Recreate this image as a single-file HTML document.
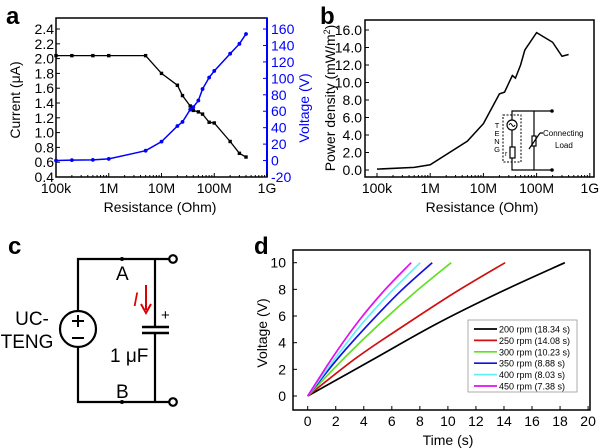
<!DOCTYPE html>
<html><head><meta charset="utf-8"><style>
body{margin:0;background:#fff}
svg{display:block;font-family:"Liberation Sans",sans-serif}
</style></head><body>
<svg id="s" width="600" height="448" viewBox="0 0 600 448">
<g font-weight="bold" font-size="24">
<text x="6" y="24">a</text>
<text x="320" y="24">b</text>
<text x="8" y="254">c</text>
<text x="254" y="254">d</text>
</g>
<g id="ga"></g>
<g id="gb"></g>
<g id="gd"></g>
<g stroke="#000" stroke-width="2.2" fill="none">
<path d="M78 311 V259 H169 M78 347 V402 H169 M155 259 V326 M155 334 V402"/>
<circle cx="78" cy="329" r="18"/>
<circle cx="173" cy="259" r="3.8"/>
<circle cx="173" cy="402" r="3.8"/>
<path d="M142 327 H169 M142 333 H169" stroke-width="2.6"/>
<path d="M72 321 H84 M78 315 V327 M72 338 H84" stroke-width="2"/>
<path d="M146 285 V310" stroke="#d00" stroke-width="2"/>
<path d="M141 304 L146 313 L151 304" stroke="#d00" stroke-width="2"/>
</g>
<circle cx="122" cy="259" r="2" fill="#000"/>
<circle cx="122" cy="402" r="2" fill="#000"/>
<g font-size="19">
<text x="116" y="280">A</text>
<text x="116" y="398">B</text>
<text x="32" y="325" text-anchor="middle">UC-</text>
<text x="27" y="348" text-anchor="middle">TENG</text>
<text x="110" y="362">1 μF</text>
<text x="161" y="320" font-size="15">+</text>
<text x="133" y="306" fill="#d00" font-style="italic">I</text>
</g>
</svg>
<script>
// ---- Panel a data ----
const aR = [1e5,2e5,5e5,1e6,5e6,1e7,2e7,2.5e7,3.5e7,4e7,5e7,6e7,8e7,1e8,2e8,3e8,4e8];
const aCurrent = [2.04,2.04,2.04,2.04,2.04,1.80,1.64,1.50,1.36,1.30,1.28,1.25,1.14,1.13,0.88,0.72,0.67];
const aVoltage = [0,0.5,0.8,2,12,23,42,47,62,65,73,87,101,109,130,142,154];
const aLeftTicks = ["0.4","0.6","0.8","1.0","1.2","1.4","1.6","1.8","2.0","2.2","2.4"];
const aRightTicks = ["-20","0","20","40","60","80","100","120","140","160"];
const xDecLabels = ["100k","1M","10M","100M","1G"];
// ---- Panel b data ----
const bR = [1e5,5e5,1e6,5e6,1e7,2e7,2.5e7,3.5e7,4e7,5e7,6e7,1e8,2e8,3e8,4e8];
const bPower = [0.1,0.3,0.6,3.3,5.3,8.7,8.9,10.8,10.5,12.0,13.7,15.7,14.6,13.0,13.2];
const bTicks = ["0.0","2.0","4.0","6.0","8.0","10.0","12.0","14.0","16.0"];
// ---- Panel d data ----
const dNames = ["200 rpm (18.34 s)","250 rpm (14.08 s)","300 rpm (10.23 s)","350 rpm (8.88 s)","400 rpm (8.03 s)","450 rpm (7.38 s)"];
const dEnd = [18.34,14.08,10.23,8.88,8.03,7.38];
const dFrac = [0,0.25,0.5,0.75,1];
const dV200 = [0,2.7,5.4,7.8,10];
const dV250 = [0,2.9,5.4,7.8,10];
const dV300 = [0,2.8,5.4,7.8,10];
const dV350 = [0,2.9,5.5,7.9,10];
const dV400 = [0,2.9,5.6,7.9,10];
const dV450 = [0,3.0,5.7,8.0,10];
const dColors = ["#000","#d01010","#60e020","#1010e0","#60f0f8","#e010f0"];
const dXTicks = ["0","2","4","6","8","10","12","14","16","18","20"];
const dYTicks = ["0","2","4","6","8","10"];

const NS="http://www.w3.org/2000/svg";
function mk(p,t,at,txt){const e=document.createElementNS(NS,t);for(const k in at)e.setAttribute(k,at[k]);if(txt!==undefined)e.textContent=txt;p.appendChild(e);return e;}

// ===== Panel a =====
const ga=document.getElementById('ga');
const aL=56,aRt=267,aT=18,aB=177;
const ax=v=>aL+(Math.log10(v)-5)*(aRt-aL)/4;
const ayL=v=>aB-(v-0.4)*(aB-aT)/2.1*1;
const ayLs=v=>177-(v-0.4)/0.2*14.8;
const ayR=v=>177-(v+20)/20*16.44;
let e=mk(ga,'rect',{x:aL,y:aT,width:aRt-aL,height:aB-aT,fill:'none',stroke:'#000','stroke-width':1.5});

mk(ga,'line',{x1:aRt,y1:aT,x2:aRt,y2:aB,stroke:'#00f','stroke-width':2});
aLeftTicks.forEach(t=>{const y=ayLs(+t);mk(ga,'line',{x1:aL,y1:y,x2:aL+4,y2:y,stroke:'#000'});
 e=mk(ga,'text',{x:aL-2,y:y+5,'text-anchor':'end','font-size':14},t);});
aRightTicks.forEach(t=>{const y=ayR(+t);mk(ga,'line',{x1:aRt-4,y1:y,x2:aRt,y2:y,stroke:'#00f'});
 e=mk(ga,'text',{x:aRt+4,y:y+5,'font-size':14,fill:'#00f'},t);});
xDecLabels.forEach((t,i)=>{const x=aL+i*(aRt-aL)/4;
 e=mk(ga,'text',{x:x,y:193,'text-anchor':'middle','font-size':14},t);
 mk(ga,'line',{x1:x,y1:aB,x2:x,y2:aB-4,stroke:'#000'});
 if(i<4)for(let m=2;m<10;m++){const xm=x+Math.log10(m)*(aRt-aL)/4;mk(ga,'line',{x1:xm,y1:aB,x2:xm,y2:aB-2,stroke:'#000'});}});
e=mk(ga,'text',{x:160,y:212,'text-anchor':'middle','font-size':14},'Resistance (Ohm)');
e=mk(ga,'text',{x:0,y:0,'text-anchor':'middle','font-size':14,transform:'translate(20,100) rotate(-90)'},'Current (μA)');
e=mk(ga,'text',{x:0,y:0,'text-anchor':'middle','font-size':14,fill:'#00f',transform:'translate(309,108) rotate(-90)'},'Voltage (V)');
e=mk(ga,'polyline',{points:aR.map((r,i)=>ax(r)+','+ayLs(aCurrent[i])).join(' '),fill:'none',stroke:'#000','stroke-width':1.3});

aR.forEach((r,i)=>{e=mk(ga,'rect',{x:ax(r)-1.7,y:ayLs(aCurrent[i])-1.7,width:3.4,height:3.4,fill:'#000'});});
e=mk(ga,'polyline',{points:aR.map((r,i)=>ax(r)+','+ayR(aVoltage[i])).join(' '),fill:'none',stroke:'#00f','stroke-width':1.5});

aR.forEach((r,i)=>{e=mk(ga,'circle',{cx:ax(r),cy:ayR(aVoltage[i]),r:1.9,fill:'#00f'});});

// ===== Panel b =====
const gb=document.getElementById('gb');
const bL=365,bRt=594,bT=20,bB=177,bX0=377,bDec=53.2;
const bx=v=>bX0+(Math.log10(v)-5)*bDec;
const by=v=>170-v*8.75;
e=mk(gb,'rect',{x:bL,y:bT,width:bRt-bL,height:bB-bT,fill:'none',stroke:'#000','stroke-width':1.5});

bTicks.forEach(t=>{const y=by(+t);mk(gb,'line',{x1:bL,y1:y,x2:bL+4,y2:y,stroke:'#000'});
 e=mk(gb,'text',{x:bL-3,y:y+5,'text-anchor':'end','font-size':14},t);});
xDecLabels.forEach((t,i)=>{const x=bX0+i*bDec;
 e=mk(gb,'text',{x:x,y:193,'text-anchor':'middle','font-size':14},t);
 mk(gb,'line',{x1:x,y1:bB,x2:x,y2:bB-4,stroke:'#000'});
 if(i<4)for(let m=2;m<10;m++){const xm=x+Math.log10(m)*bDec;mk(gb,'line',{x1:xm,y1:bB,x2:xm,y2:bB-2,stroke:'#000'});}});
e=mk(gb,'text',{x:482,y:212,'text-anchor':'middle','font-size':14},'Resistance (Ohm)');
e=mk(gb,'text',{x:0,y:0,'text-anchor':'middle','font-size':14,transform:'translate(335,98) rotate(-90)'});
e.innerHTML='Power density (mW/m<tspan dy="-5" font-size="9">2</tspan><tspan dy="5">)</tspan>';
e=mk(gb,'polyline',{points:bR.map((r,i)=>bx(r)+','+by(bPower[i])).join(' '),fill:'none',stroke:'#000','stroke-width':1.5});

// inset
const ins=mk(gb,'g',{stroke:'#000','stroke-width':1.2,fill:'none'});

mk(ins,'path',{d:'M512 120 V111 H552 M512 130 V147 M512 158 V170 H552 M534 111 V136 M534 146 V170'});
mk(ins,'rect',{x:503,y:115,width:18,height:47,'stroke-dasharray':'2,1.5','stroke-width':1});
mk(ins,'circle',{cx:512,cy:125,r:5});
mk(ins,'path',{d:'M509 125 q1.5 -3 3 0 t3 0','stroke-width':1});
mk(ins,'rect',{x:510,y:147,width:5,height:11});
mk(ins,'rect',{x:532,y:136,width:4,height:10});
mk(ins,'path',{d:'M529 149 L540 133 M540 133 H543'});
mk(gb,'circle',{cx:552,cy:111,r:1.8,fill:'#000'});
mk(gb,'circle',{cx:552,cy:170,r:1.8,fill:'#000'});
['T','E','N','G'].forEach((c,i)=>mk(gb,'text',{x:497,y:128+i*8,'font-size':7.5,'text-anchor':'middle'},c));
mk(gb,'text',{x:505,y:156,'font-size':7},'r');
e=mk(gb,'text',{x:543,y:136,'font-size':8},'Connecting');
e=mk(gb,'text',{x:555,y:148,'font-size':8},'Load');

// ===== Panel d =====
const gd=document.getElementById('gd');
const dL=293,dRt=590,dT=250,dB=410;
const dx=v=>307.7+v*14.02;
const dy=v=>396-v*13.33;
e=mk(gd,'rect',{x:dL,y:dT,width:dRt-dL,height:dB-dT,fill:'none',stroke:'#000','stroke-width':1.5});

dYTicks.forEach(t=>{const y=dy(+t);mk(gd,'line',{x1:dL,y1:y,x2:dL+4,y2:y,stroke:'#000'});
 e=mk(gd,'text',{x:dL-7,y:y+5,'text-anchor':'end','font-size':14},t);});
dXTicks.forEach(t=>{const x=dx(+t);mk(gd,'line',{x1:x,y1:dB,x2:x,y2:dB-4,stroke:'#000'});
 e=mk(gd,'text',{x:x,y:426,'text-anchor':'middle','font-size':14},t);});
e=mk(gd,'text',{x:448,y:445,'text-anchor':'middle','font-size':14},'Time (s)');
e=mk(gd,'text',{x:0,y:0,'text-anchor':'middle','font-size':14,transform:'translate(267,333) rotate(-90)'},'Voltage (V)');
const dSeries=[dV200,dV250,dV300,dV350,dV400,dV450];
dSeries.forEach((vs,s)=>{
 const pts=vs.map((v,i)=>[dx(dFrac[i]*dEnd[s]),dy(v)]);
 let d='M'+pts[0][0]+' '+pts[0][1];
 for(let i=1;i<pts.length;i++){const p0=pts[Math.max(0,i-2)],p1=pts[i-1],p2=pts[i],p3=pts[Math.min(pts.length-1,i+1)];
  d+=` C${p1[0]+(p2[0]-p0[0])/6} ${p1[1]+(p2[1]-p0[1])/6} ${p2[0]-(p3[0]-p1[0])/6} ${p2[1]-(p3[1]-p1[1])/6} ${p2[0]} ${p2[1]}`;}
 e=mk(gd,'path',{d:d,fill:'none',stroke:dColors[s],'stroke-width':1.7});
 
});
e=mk(gd,'rect',{x:468,y:320,width:109,height:72,fill:'#fff',stroke:'#999','stroke-width':0.8});

dNames.forEach((n,i)=>{const y=329+i*11.4;
 mk(gd,'line',{x1:474,y1:y,x2:497,y2:y,stroke:dColors[i],'stroke-width':1.7});
 e=mk(gd,'text',{x:499,y:y+3.5,'font-size':9},n);});
</script>
</body></html>
